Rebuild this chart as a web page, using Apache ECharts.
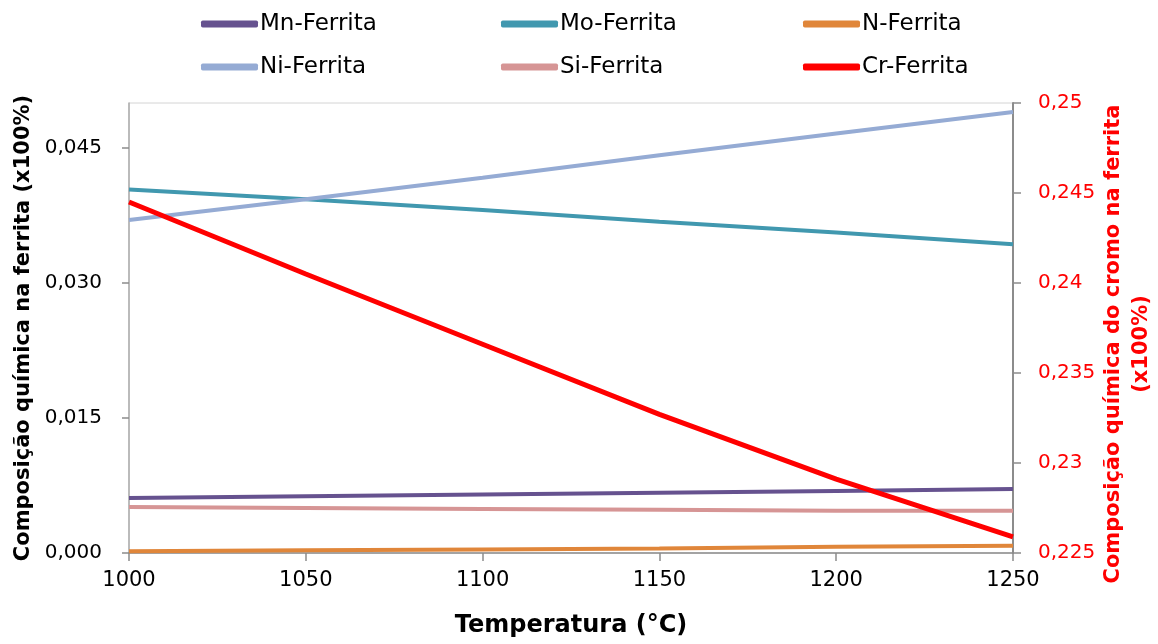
<!DOCTYPE html>
<html>
<head>
<meta charset="utf-8">
<script src="https://cdn.jsdelivr.net/npm/echarts@6/dist/echarts.min.js"></script>
<style>
  html, body { margin: 0; padding: 0; background: #fff; }
  #chart { width: 1158px; height: 644px; }
</style>
</head>
<body>
<div id="chart"></div>
<script>
// Temperatures (°C)
const temperatures = [1000, 1050, 1100, 1150, 1200, 1250];

// Ferrite composition (x100%), left axis
const mnFerrita = [0.0061, 0.0063, 0.0065, 0.0067, 0.0069, 0.0071];
const moFerrita = [0.0404, 0.0393, 0.0381, 0.0368, 0.0356, 0.0343];
const nFerrita  = [0.0002, 0.0003, 0.0004, 0.0005, 0.0007, 0.0008];
const niFerrita = [0.0370, 0.0393, 0.0417, 0.0442, 0.0466, 0.0490];
const siFerrita = [0.0051, 0.0050, 0.0049, 0.0048, 0.0047, 0.0047];

// Chromium in ferrite (x100%), right axis
const crFerrita = [0.2445, 0.2405, 0.2366, 0.2327, 0.2291, 0.2259];

// Axis tick values
const leftTicks  = [0, 0.015, 0.03, 0.045];
const rightTicks = [0.225, 0.23, 0.235, 0.24, 0.245, 0.25];

const FONT = '"DejaVu Sans", "Open Sans", sans-serif';

function pairs(values) {
  return temperatures.map((t, i) => [t, values[i]]);
}

function lineSeries(name, values, color, width, yAxisIndex) {
  return {
    name: name,
    type: 'line',
    yAxisIndex: yAxisIndex || 0,
    data: pairs(values),
    showSymbol: false,
    symbol: 'none',
    smooth: false,
    lineStyle: { color: color, width: width },
    itemStyle: { color: color },
    emphasis: { disabled: true }
  };
}

const legendBase = {
  orient: 'vertical',
  icon: 'roundRect',
  itemWidth: 57,
  itemHeight: 7,
  itemGap: 15,
  selectedMode: false,
  textStyle: { fontFamily: FONT, fontSize: 23, color: '#000', lineHeight: 28, padding: [0, 0, 0, -3] }
};

const chart = echarts.init(document.getElementById('chart'), null, { renderer: 'canvas' });

chart.setOption({
  animation: false,
  backgroundColor: '#fff',
  grid: {
    left: 129, right: 145, top: 103, bottom: 91,
    outerBoundsMode: 'none',
    containLabel: false,
    show: true, borderColor: '#d4d4d4', borderWidth: 1
  },
  legend: [
    Object.assign({}, legendBase, { left: 196, top: 5,  data: ['Mn-Ferrita', 'Ni-Ferrita'] }),
    Object.assign({}, legendBase, { left: 496, top: 5,  data: ['Mo-Ferrita', 'Si-Ferrita'] }),
    Object.assign({}, legendBase, { left: 798, top: 5,  data: ['N-Ferrita', 'Cr-Ferrita'] })
  ],
  xAxis: {
    type: 'value',
    min: 1000, max: 1250, interval: 50,
    name: 'Temperatura (°C)',
    nameLocation: 'middle',
    nameGap: 61,
    nameTextStyle: { fontFamily: FONT, fontSize: 24, fontWeight: 'bold', color: '#000' },
    axisLine: { show: true, lineStyle: { color: '#8c8c8c', width: 1.5 } },
    axisTick: { show: true, inside: false, length: 8, lineStyle: { color: '#8c8c8c', width: 1.5 } },
    axisLabel: { fontFamily: FONT, fontSize: 21, color: '#000', margin: 17, formatter: v => String(v) },
    splitLine: { show: false }
  },
  yAxis: [
    {
      type: 'value',
      position: 'left',
      min: 0, max: 0.05,
      name: 'Composição química na ferrita (x100%)',
      nameLocation: 'middle',
      nameRotate: 90,
      nameGap: 95,
      nameTextStyle: { fontFamily: FONT, fontSize: 21, fontWeight: 'bold', color: '#000' },
      axisLine: { show: true, lineStyle: { color: '#ababab', width: 1.5 } },
      axisTick: { show: true, length: 7, customValues: leftTicks, lineStyle: { color: '#8c8c8c', width: 1.5 } },
      axisLabel: {
        fontFamily: FONT, fontSize: 20, color: '#000', margin: 27,
        customValues: leftTicks,
        formatter: v => v.toFixed(3).replace('.', ',')
      },
      splitLine: { show: false }
    },
    {
      type: 'value',
      position: 'right',
      min: 0.225, max: 0.25,
      name: 'Composição química do cromo na ferrita\n(x100%)',
      nameLocation: 'middle',
      nameRotate: 90,
      nameGap: 87,
      nameMoveOverlap: false,
      nameTextStyle: {
        fontFamily: FONT, fontSize: 21, fontWeight: 'bold', color: '#ff0000',
        lineHeight: 28, align: 'center', padding: [0, 32, 0, 0]
      },
      axisLine: { show: true, lineStyle: { color: '#8c8c8c', width: 2 } },
      axisTick: { show: true, length: 8, customValues: rightTicks, lineStyle: { color: '#8c8c8c', width: 1.5 } },
      axisLabel: {
        fontFamily: FONT, fontSize: 20, color: '#ff0000', margin: 25,
        customValues: rightTicks,
        formatter: v => String(+v.toFixed(3)).replace('.', ',')
      },
      splitLine: { show: false }
    }
  ],
  series: [
    lineSeries('Mn-Ferrita', mnFerrita, '#66528f', 4),
    lineSeries('Mo-Ferrita', moFerrita, '#4198af', 4),
    lineSeries('N-Ferrita',  nFerrita,  '#e0863a', 4),
    lineSeries('Ni-Ferrita', niFerrita, '#95abd4', 4),
    lineSeries('Si-Ferrita', siFerrita, '#d69595', 4),
    lineSeries('Cr-Ferrita', crFerrita, '#ff0000', 5, 1)
  ]
});
</script>
</body>
</html>
